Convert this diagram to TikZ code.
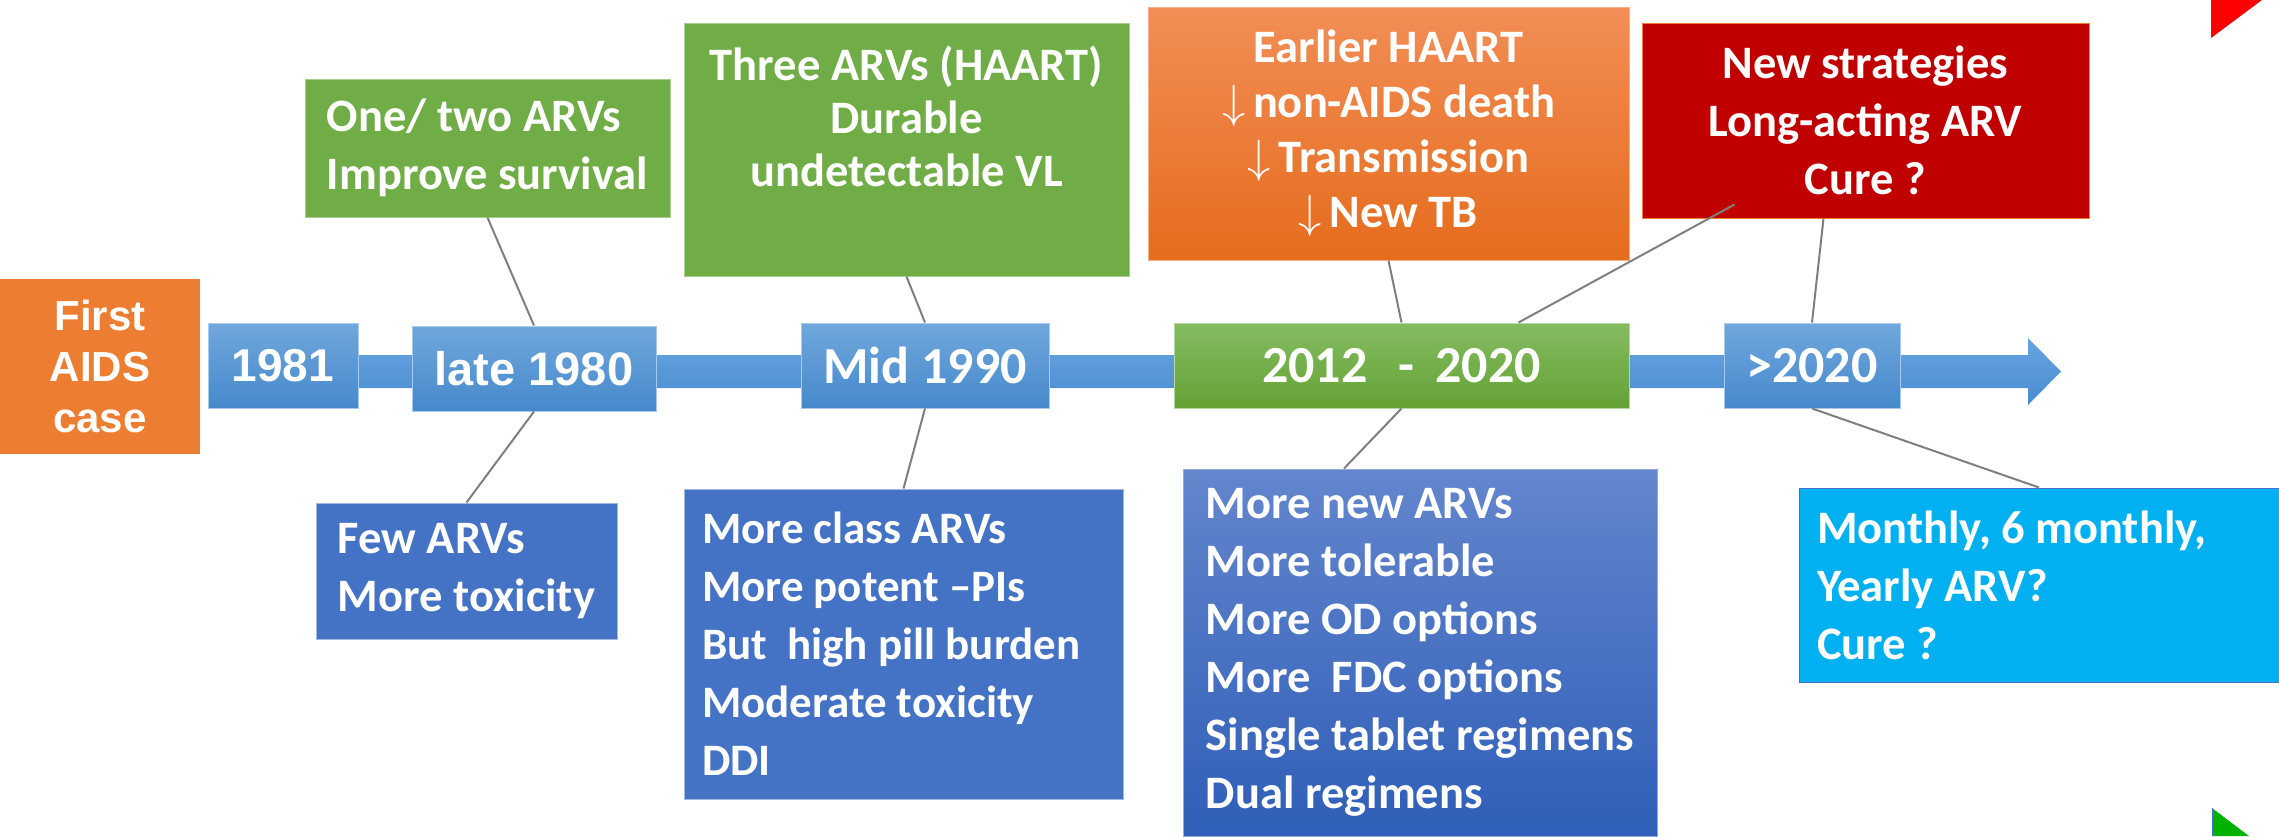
\documentclass[tikz,border=0pt]{standalone}
\usepackage{fix-cm}
\usepackage{fontspec}
\setmainfont{Carlito}
\newfontfamily\arialfont{Liberation Sans}
\usetikzlibrary{positioning}

\definecolor{aidsorange}{HTML}{ED7D31}
\definecolor{yeartop}{RGB}{112,167,221}
\definecolor{yearbot}{RGB}{70,137,203}
\definecolor{axistop}{RGB}{104,163,224}
\definecolor{axisbot}{RGB}{72,141,208}
\definecolor{spantop}{RGB}{133,188,98}
\definecolor{spanbot}{RGB}{100,162,52}
\definecolor{arvgreen}{HTML}{70AD47}
\definecolor{haarttop}{RGB}{242,142,86}
\definecolor{haartbot}{RGB}{229,108,28}
\definecolor{stratred}{HTML}{C00000}
\definecolor{toxblue}{HTML}{4472C4}
\definecolor{newtop}{RGB}{99,134,205}
\definecolor{newbot}{RGB}{47,94,184}
\definecolor{monthcyan}{HTML}{00B0F0}
\definecolor{linkgray}{HTML}{7F7F7F}

\tikzset{
    yearbox/.style={
        rectangle, draw=yeartop!60!white, line width=1pt,
        top color=yeartop, bottom color=yearbot,
        text=white, inner sep=0pt,
        font=\bfseries\fontsize{52}{60}\selectfont
    },
    textbox/.style={
        rectangle, text=white, line width=1pt,
        inner xsep=18pt, inner ysep=0pt, align=left,
        font=\bfseries\fontsize{46.5}{58}\selectfont
    },
    link/.style={draw=linkgray, line width=2pt}
}

\begin{document}
\begin{tikzpicture}[x=1pt, y=-1pt]
\useasboundingbox (0,0) rectangle (2279,836);

% Time axis
\shade[top color=axistop, bottom color=axisbot]
    (215,355) -- (2028,355) -- (2028,338) -- (2061,371.5)
    -- (2028,405) -- (2028,388) -- (215,388) -- cycle;

% Start of the epidemic
\node[rectangle, fill=aidsorange, text=white, align=center, inner sep=0pt,
      minimum width=200pt, minimum height=175pt,
      font=\arialfont\bfseries\fontsize{42}{51}\selectfont] (first) at (100,366.5) {First\\AIDS\\case};

% Years on the axis
\node[yearbox, minimum width=150pt, minimum height=85pt,
      font=\arialfont\bfseries\fontsize{46}{56}\selectfont] (y1981) at (283,365.5) {1981};
\node[yearbox, minimum width=244pt, minimum height=85pt,
      font=\arialfont\bfseries\fontsize{47}{56}\selectfont] (late) at (534,368.5) {late 1980};
\node[yearbox, minimum width=248pt, minimum height=85pt] (mid) at (925,365.5) {Mid 1990};
\node[yearbox, draw=spantop!60!white, top color=spantop, bottom color=spanbot,
      minimum width=455pt, minimum height=85pt] (span) at (1401.5,365.5) {2012\hspace{0.6em}-\hspace{0.4em}2020};
\node[yearbox, minimum width=176pt, minimum height=85pt] (beyond) at (1812,365.5) {>2020};

% Above the axis
\node[textbox, fill=arvgreen, draw=arvgreen!60!white, minimum width=365pt,
      minimum height=138pt] (one) at (487.5,148) {One/ two ARVs\\Improve survival};
\node[textbox, fill=arvgreen, draw=arvgreen!60!white, align=center, minimum width=445pt,
      minimum height=253pt, font=\bfseries\fontsize{46.5}{53}\selectfont] (three) at (906.5,149.5)
      {Three ARVs (HAART)\\Durable\\undetectable VL\\[14pt]\mbox{}};
\node[textbox, top color=haarttop, bottom color=haartbot, draw=haarttop!70!white,
      align=center, minimum width=481pt, minimum height=253pt,
      font=\bfseries\fontsize{46.5}{55}\selectfont] (haart) at (1388.5,133.5)
      {Earlier HAART\\$\downarrow$\,non-AIDS death\\$\downarrow$\,Transmission\\$\downarrow$\,New TB};
\node[textbox, fill=stratred, draw=aidsorange, align=center, minimum width=447pt,
      minimum height=195pt] (strat) at (1865.5,120.5) {New strategies\\Long-acting ARV\\Cure ?};

% Below the axis
\node[textbox, fill=toxblue, draw=toxblue!50!white, minimum width=301pt,
      minimum height=136pt] (few) at (466.5,571) {Few ARVs\\More toxicity};
\node[textbox, fill=toxblue, draw=toxblue!50!white, align=flush left, text width=403pt,
      minimum height=310pt, font=\bfseries\fontsize{45}{58}\selectfont] (cls) at (903.5,644)
      {More class ARVs\\More potent --PIs\\But\ \ high pill burden\\Moderate toxicity\\DDI};
\node[textbox, top color=newtop, bottom color=newbot, draw=newtop!70!white,
      minimum width=474pt, minimum height=367pt] (newarv) at (1420,652.5)
      {More new ARVs\\More tolerable\\More OD options\\More\ \ FDC options\\Single tablet regimens\\Dual regimens};
\node[textbox, fill=monthcyan, draw=toxblue, align=flush left, text width=444pt,
      minimum height=194pt] (month) at (2039,585) {Monthly, 6 monthly,\\Yearly ARV?\\Cure ?};

% Connectors
\draw[link] (one.south) -- (late.north);
\draw[link] (late.south) -- (few.north);
\draw[link] (three.south) -- (mid.north);
\draw[link] (mid.south) -- (cls.north);
\draw[link] (haart.south) -- (span.north);
\draw[link] ([xshift=93pt,yshift=14pt]strat.south west) -- ([xshift=117pt]span.north);
\draw[link] (span.south) -- ([xshift=-76pt]newarv.north);
\draw[link] ([xshift=-42pt]strat.south) -- (beyond.north);
\draw[link] (beyond.south) -- (month.north);

% Corner marks
\fill[red] (2211,0) -- (2211,38) -- (2262,0) -- cycle;
\fill[green!70!black] (2212,808) -- (2212,836) -- (2249,836) -- cycle;
\draw[toxblue, line width=1pt] (2212,808) -- (2212,836);

\end{tikzpicture}
\end{document}
